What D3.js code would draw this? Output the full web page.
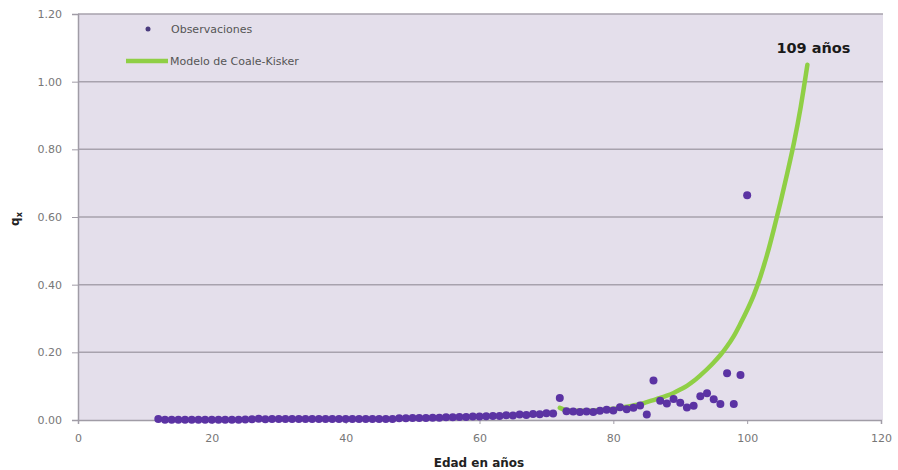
<!DOCTYPE html>
<html><head><meta charset="utf-8">
<script src="https://d3js.org/d3.v7.min.js"></script>
<style>
body{margin:0;background:#fff;}
text{font-family:"DejaVu Sans",Verdana,sans-serif;}
</style></head>
<body><svg id="c" width="898" height="470"></svg>
<script>
// Observations
const obsAges = [12,13,14,15,16,17,18,19,20,21,22,23,24,25,26,27,28,29,30,31,32,33,34,35,36,37,38,39,40,41,42,43,44,45,46,47,48,49,50,51,52,53,54,55,56,57,58,59,60,61,62,63,64,65,66,67,68,69,70,71,72,73,74,75,76,77,78,79,80,81,82,83,84,85,86,87,88,89,90,91,92,93,94,95,96,97,98,99,100];
const obsQx = [0.003,0.001,0.001,0.001,0.001,0.001,0.001,0.001,0.001,0.001,0.001,0.001,0.001,0.0015,0.002,0.004,0.002,0.003,0.003,0.003,0.003,0.003,0.003,0.003,0.003,0.003,0.003,0.003,0.003,0.003,0.003,0.003,0.003,0.003,0.003,0.003,0.005,0.005,0.006,0.006,0.006,0.007,0.007,0.008,0.008,0.009,0.009,0.010,0.010,0.011,0.012,0.012,0.014,0.013,0.016,0.015,0.018,0.017,0.020,0.019,0.065,0.026,0.025,0.024,0.025,0.024,0.027,0.030,0.028,0.038,0.032,0.036,0.043,0.016,0.117,0.057,0.049,0.062,0.051,0.037,0.042,0.070,0.079,0.061,0.047,0.138,0.047,0.133,0.664];
// Coale-Kisker model
const modelAges = [72,73,74,75,76,77,78,79,80,81,82,83,84,85,86,87,88,89,90,91,92,93,94,95,96,97,98,99,100,101,102,103,104,105,106,107,108,109];
const modelQx = [0.036,0.029,0.027,0.027,0.027,0.028,0.029,0.031,0.033,0.036,0.039,0.043,0.047,0.053,0.059,0.065,0.072,0.080,0.090,0.101,0.115,0.132,0.150,0.170,0.192,0.218,0.248,0.285,0.325,0.370,0.425,0.490,0.565,0.645,0.730,0.820,0.925,1.050];
const xTicks = [0,20,40,60,80,100,120];
const yTicks = [0,0.2,0.4,0.6,0.8,1.0,1.2];
const seriesNames = ["Observaciones","Modelo de Coale-Kisker"];
const xTitle = "Edad en años";
const endLabel = "109 años";

const svg = d3.select("#c");
const L=78,R=881,T=14,B=420;
const x = d3.scaleLinear().domain([0,120]).range([L,R]);
const y = d3.scaleLinear().domain([0,1.2]).range([B,T]);

svg.append("rect").attr("x",L).attr("y",T).attr("width",R-L+2).attr("height",B-T).attr("fill","#e4dfeb");

// gridlines
svg.append("g").selectAll("line").data(yTicks.filter(d=>d>0)).join("line")
  .attr("x1",L).attr("x2",R+2).attr("y1",d=>y(d)).attr("y2",d=>y(d))
  .attr("stroke","#a7a2ad").attr("stroke-width",1.5);

// y axis
const ya = svg.append("g").attr("transform",`translate(${L},0)`)
  .call(d3.axisLeft(y).tickValues(yTicks).tickFormat(d3.format(".2f")).tickSize(6).tickPadding(10));
ya.select(".domain").attr("stroke","#a09ca6").attr("stroke-width",1.5);
ya.selectAll(".tick line").attr("stroke","#a09ca6");
ya.selectAll("text").attr("fill","#777").style("font-size","11px");

// x axis
const xa = svg.append("g").attr("transform",`translate(0,${B})`)
  .call(d3.axisBottom(x).tickValues(xTicks).tickSize(4).tickPadding(10));
xa.select(".domain").attr("stroke","#a09ca6").attr("stroke-width",1.5);
xa.selectAll(".tick line").attr("stroke","#a09ca6");
xa.selectAll("text").attr("fill","#777").style("font-size","11px");

// model line
const line = d3.line().x((d,i)=>x(modelAges[i])).y(d=>y(d)).curve(d3.curveMonotoneX);
svg.append("path").datum(modelQx).attr("d",line).attr("fill","none")
  .attr("stroke","#8fcf45").attr("stroke-width",4.5).attr("stroke-linecap","round");

// observations
svg.append("g").selectAll("circle").data(obsQx).join("circle")
  .attr("cx",(d,i)=>x(obsAges[i])).attr("cy",d=>y(d)).attr("r",4)
  .attr("fill","#5b33a3");

// end label
svg.append("text").attr("x",x(modelAges[modelAges.length-1])+6).attr("y",y(modelQx[modelQx.length-1])-12)
  .attr("text-anchor","middle").attr("font-weight","bold").style("font-size","14.5px").attr("fill","#1a1a1a").text(endLabel);

// legend
svg.append("circle").attr("cx",148).attr("cy",29).attr("r",2.5).attr("fill","#4a3b7e");
svg.append("text").attr("x",171).attr("y",33).style("font-size","11px").attr("fill","#555").text(seriesNames[0]);
svg.append("line").attr("x1",126).attr("x2",168).attr("y1",61).attr("y2",61).attr("stroke","#8fcf45").attr("stroke-width",4.5);
svg.append("text").attr("x",170).attr("y",65).style("font-size","11px").attr("fill","#555").text(seriesNames[1]);

// axis titles
svg.append("text").attr("x",479).attr("y",467).attr("text-anchor","middle").attr("font-weight","bold")
  .style("font-size","12px").attr("fill","#222").text(xTitle);
const yt = svg.append("text").attr("transform","translate(19,219) rotate(-90)").attr("text-anchor","middle")
  .attr("font-weight","bold").style("font-size","12px").attr("fill","#222");
yt.append("tspan").text("q");
yt.append("tspan").attr("dy",3).style("font-size","8px").text("x");
</script></body></html>
